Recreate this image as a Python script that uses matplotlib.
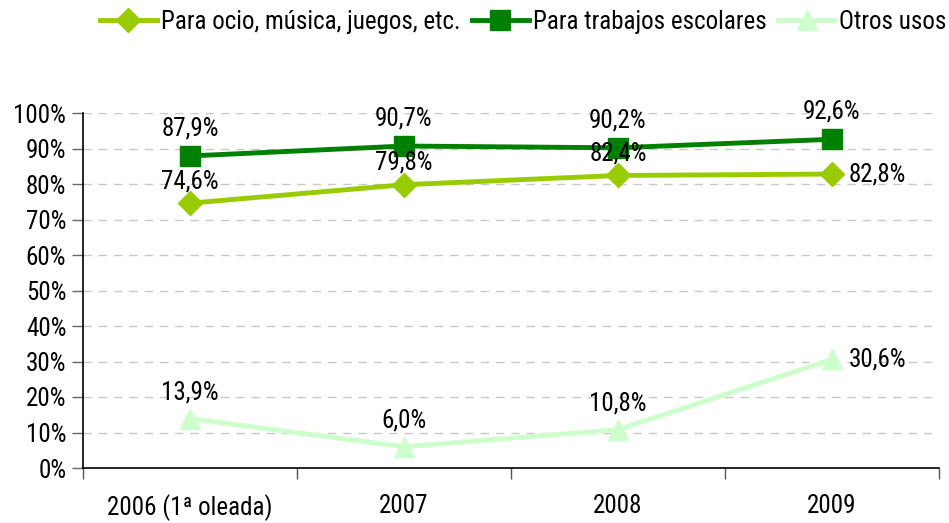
import matplotlib
matplotlib.use("Agg")
import matplotlib.pyplot as plt

plt.rcParams['font.family'] = ['Roboto Condensed', 'DejaVu Sans']

categories = ["2006 (1ª oleada)", "2007", "2008", "2009"]
ocio = [74.6, 79.8, 82.4, 82.8]
escolares = [87.9, 90.7, 90.2, 92.6]
otros = [13.9, 6.0, 10.8, 30.6]
labels_ocio = ["74,6%", "79,8%", "82,4%", "82,8%"]
labels_esc = ["87,9%", "90,7%", "90,2%", "92,6%"]
labels_otros = ["13,9%", "6,0%", "10,8%", "30,6%"]

fig = plt.figure(figsize=(9.49, 5.23), dpi=100)
ax = fig.add_axes([83/949, 1-468/523, (939-83)/949, (468-113)/523])

x = list(range(len(categories)))
c1, c2, c3 = "#99CC00", "#008000", "#CCFFCC"
l1, = ax.plot(x, ocio, color=c1, lw=3.5, marker="D", ms=12, label="Para ocio, música, juegos, etc.", zorder=3)
l2, = ax.plot(x, escolares, color=c2, lw=3.5, marker="s", ms=14, label="Para trabajos escolares", zorder=3)
l3, = ax.plot(x, otros, color=c3, lw=3.5, marker="^", ms=15, label="Otros usos", zorder=3)

fs = 18
for i in range(4):
    ax.annotate(labels_esc[i], (x[i], escolares[i]), xytext=(0, 11), textcoords="offset points",
                ha="center", va="bottom", fontsize=fs)
for i in range(3):
    ax.annotate(labels_ocio[i], (x[i], ocio[i]), xytext=(0, 7), textcoords="offset points",
                ha="center", va="bottom", fontsize=fs)
ax.annotate(labels_ocio[3], (x[3], ocio[3]), xytext=(12, 0), textcoords="offset points",
            ha="left", va="center", fontsize=fs)
for i in range(3):
    ax.annotate(labels_otros[i], (x[i], otros[i]), xytext=(0, 10), textcoords="offset points",
                ha="center", va="bottom", fontsize=fs)
ax.annotate(labels_otros[3], (x[3], otros[3]), xytext=(12, 0), textcoords="offset points",
            ha="left", va="center", fontsize=fs)

ax.set_xlim(-0.5, 3.5)
ax.set_ylim(0, 100)
ax.set_yticks(range(0, 101, 10))
ax.set_yticklabels([f"{v}%" for v in range(0, 101, 10)], fontsize=fs)
ax.set_xticks([-0.5, 0.5, 1.5, 2.5, 3.5])
ax.set_xticklabels([])
ax.set_xticks(x, minor=True)
ax.set_xticklabels(categories, minor=True, fontsize=fs)
ax.tick_params(axis="x", which="minor", length=0, pad=19)
ax.tick_params(axis="x", which="major", length=8, direction="out", width=1, color="#555555")
ax.tick_params(axis="y", length=8, direction="out", width=1, pad=4, color="#666666")
for v in range(10, 101, 10):
    ax.plot([-0.5, 3.48], [v, v], color="#C8C8C8", lw=1, ls=(0, (6, 5)), zorder=1)
for s in ["top", "right"]:
    ax.spines[s].set_visible(False)
ax.spines["left"].set_linewidth(1.2)
ax.spines["bottom"].set_linewidth(1.2)

fig.legend(handles=[l1, l2, l3], loc="center right", bbox_to_anchor=(1.0, 1-22/523), ncol=3,
           frameon=False, fontsize=fs, handlelength=2.3, handletextpad=0.15, columnspacing=0.45,
           borderaxespad=0, borderpad=0.1)

fig.savefig("out.png", dpi=100)
